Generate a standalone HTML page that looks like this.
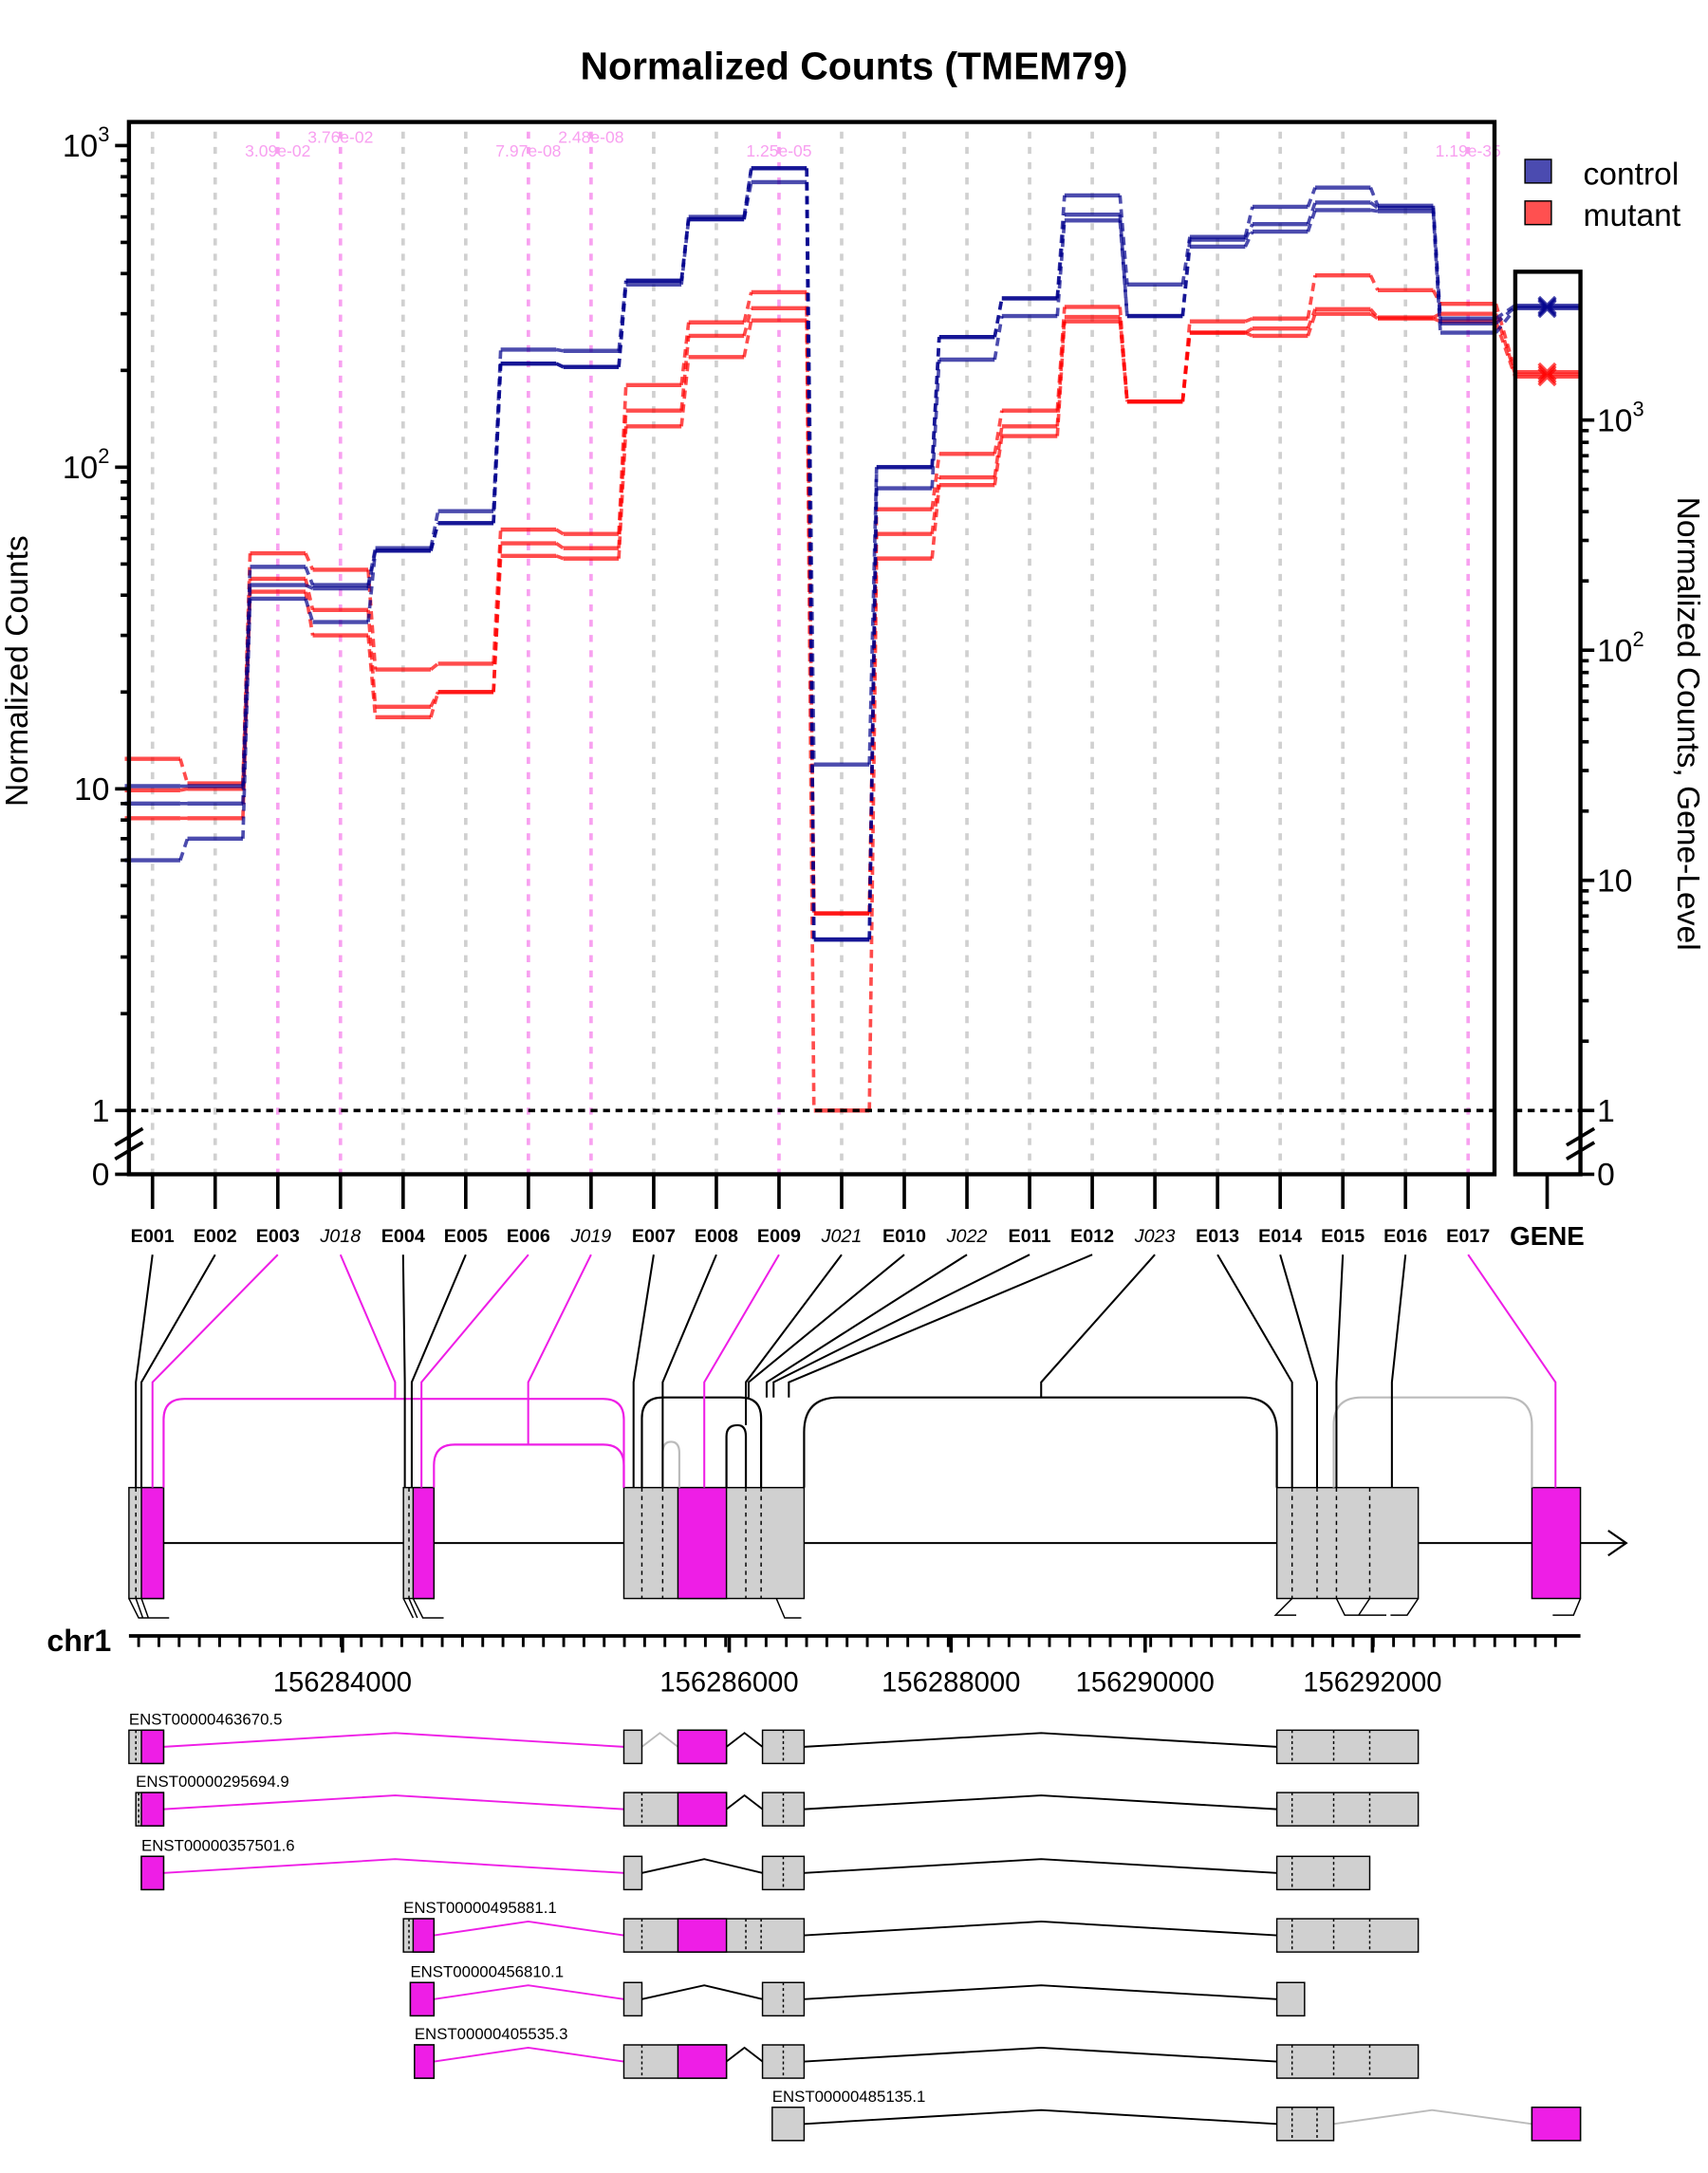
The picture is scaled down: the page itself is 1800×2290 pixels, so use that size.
<!DOCTYPE html>
<html><head><meta charset="utf-8"><style>
html,body{margin:0;padding:0;background:#fff;}
svg{display:block;font-family:"Liberation Sans",sans-serif;}
</style></head><body>
<svg id="chart" width="1800" height="2290" viewBox="0 0 1232 1567.4" xmlns="http://www.w3.org/2000/svg">
<text x="616" y="57" font-size="28" font-weight="bold" text-anchor="middle">Normalized Counts (TMEM79)</text>
<g id="grid"></g>
<g id="series"></g>
<rect x="93" y="88" width="985" height="759" fill="none" stroke="#000" stroke-width="3"/>
<rect x="1093" y="196" width="47" height="651" fill="none" stroke="#000" stroke-width="3"/>
<line x1="93" y1="801" x2="1078" y2="801" stroke="#000" stroke-width="2.5" stroke-dasharray="5,4"/>
<line x1="1093" y1="801" x2="1140" y2="801" stroke="#000" stroke-width="2.5" stroke-dasharray="5,4"/>
<g id="axes"></g>
<text transform="translate(20,484) rotate(-90)" font-size="23" text-anchor="middle">Normalized Counts</text>
<text transform="translate(1210,522) rotate(90)" font-size="23" text-anchor="middle">Normalized Counts, Gene-Level</text>
<g>
<rect x="1100" y="115" width="19" height="17" fill="#4b4bb0" stroke="#000"/>
<text x="1142" y="133" font-size="23">control</text>
<rect x="1100" y="145" width="19" height="17" fill="#ff5050" stroke="#000"/>
<text x="1142" y="163" font-size="23">mutant</text>
</g>
<g id="model">
<line x1="93" y1="1113" x2="1172" y2="1113" stroke="#000" stroke-width="1.3"/>
<path d="M1160 1104 L1173 1113 L1160 1122" fill="none" stroke="#000" stroke-width="1.5"/>
<rect x="93" y="1073" width="25" height="80" fill="#d0d0d0" stroke="#000"/>
<rect x="102" y="1073" width="16" height="80" fill="#ee1ee6" stroke="#000"/>
<rect x="291" y="1073" width="22" height="80" fill="#d0d0d0" stroke="#000"/>
<rect x="298" y="1073" width="15" height="80" fill="#ee1ee6" stroke="#000"/>
<rect x="450" y="1073" width="130" height="80" fill="#d0d0d0" stroke="#000"/>
<rect x="489" y="1073" width="35" height="80" fill="#ee1ee6" stroke="#000"/>
<rect x="921" y="1073" width="102" height="80" fill="#d0d0d0" stroke="#000"/>
<rect x="1105" y="1073" width="35" height="80" fill="#ee1ee6" stroke="#000"/>
<g stroke="#000" stroke-dasharray="3,3" stroke-width="1">
<line x1="98" y1="1073" x2="98" y2="1153"/><line x1="295" y1="1073" x2="295" y2="1153"/>
<line x1="463" y1="1073" x2="463" y2="1153"/><line x1="478" y1="1073" x2="478" y2="1153"/>
<line x1="538" y1="1073" x2="538" y2="1153"/><line x1="549" y1="1073" x2="549" y2="1153"/>
<line x1="932" y1="1073" x2="932" y2="1153"/><line x1="950" y1="1073" x2="950" y2="1153"/>
<line x1="964" y1="1073" x2="964" y2="1153"/><line x1="988" y1="1073" x2="988" y2="1153"/>
</g>
<g fill="none" stroke-width="1.5">
<path d="M118 1073 V1024 Q118 1009 133 1009 H435 Q450 1009 450 1024 V1073" stroke="#ee1ee6"/>
<path d="M313 1073 V1057 Q313 1042 328 1042 H435 Q450 1042 450 1057 V1073" stroke="#ee1ee6"/>
<path d="M463 1073 V1023 Q463 1008 478 1008 H534 Q549 1008 549 1023 V1073" stroke="#000"/>
<path d="M478 1073 V1048 Q478 1040 484 1040 Q490 1040 490 1048 V1073" stroke="#bbb"/>
<path d="M524 1073 V1036 Q524 1028 532 1028 Q538 1028 538 1036 V1073" stroke="#000"/>
<path d="M580 1073 V1033 Q580 1008 605 1008 H896 Q921 1008 921 1033 V1073" stroke="#000"/>
<path d="M962 1073 V1028 Q962 1008 982 1008 H1085 Q1105 1008 1105 1028 V1073" stroke="#bbb"/>
</g>
<g stroke="#000" stroke-width="1" fill="none">
<path d="M93 1153 L100 1167 H110 M98 1153 L103 1167 M102 1153 L107 1167 H122"/>
<path d="M291 1153 L298 1167 M295 1153 L301 1167 M298 1153 L305 1167 H320"/>
<path d="M560 1153 L566 1167 H578"/>
<path d="M932 1153 L920 1165 H935 M964 1153 L970 1165 H985 M988 1153 L980 1165 H1000 M1023 1153 L1015 1165 H1003"/>
<path d="M1140 1153 L1135 1165 H1120"/>
</g>
</g>
<text x="57" y="1191" font-size="22" font-weight="bold" text-anchor="middle">chr1</text>
<g id="gaxis">
<line x1="93" y1="1180" x2="1140" y2="1180" stroke="#000" stroke-width="2.5"/>
</g>
<g id="tx"></g>
</svg>
<script>
var bins=['E001','E002','E003','J018','E004','E005','E006','J019','E007','E008','E009','J021','E010','J022','E011','E012','J023','E013','E014','E015','E016','E017'];
var pvals={E003:'3.09e-02',J018:'3.76e-02',E006:'7.97e-08',J019:'2.48e-08',E009:'1.25e-05',E017:'1.19e-35'};
var control1=[10.2,10.2,49,43,56,73,232,230,380,600,850,11.9,100,254,335,700,370,520,645,740,650,290];
var control2=[9,9,43,42,55,67,210,205,380,590,850,3.4,100,254,335,610,295,510,570,665,640,280];
var control3=[6,7,39,33,55,67,210,205,370,590,770,3.4,86,216,295,585,295,485,540,630,625,262];
var mutant1=[12.4,10.4,54,48,23.5,24.5,64,62,180,282,350,4.1,74,110,150,315,160,284,290,395,355,322];
var mutant2=[9.9,10,45,36,18,20,58,56,150,256,312,4.1,62,93,134,293,160,262,270,310,292,300];
var mutant3=[8.1,8.1,41,30,16.7,20,53,52,134,220,286,1,52,88,125,284,160,262,256,300,290,284];
var geneControl=[3150,3100,3050];
var geneMutant=[1620,1580,1540];
var yTicks=[1,10,100,1000];
var geneTicks=[1,10,100,1000];
var genomicLabels=['156284000','156286000','156288000','156290000','156292000'];
var genomicLabelX=[247,526,686,826,990];

var NS='http://www.w3.org/2000/svg';
function mk(parent,tag,attrs,text){var e=document.createElementNS(NS,tag);for(var k in attrs)e.setAttribute(k,attrs[k]);if(text!==undefined)e.textContent=text;parent.appendChild(e);return e;}
function xB(i){return 110+i*45.19;}
function yM(v){return v<=0?847:801-232*Math.log10(v);}
function yG(v){return 801-166*Math.log10(v);}
var grid=document.getElementById('grid'),series=document.getElementById('series'),axes=document.getElementById('axes');

bins.forEach(function(b,i){
  var sig=pvals[b]!==undefined;
  var g=mk(grid,'line',{x1:xB(i),y1:95,x2:xB(i),y2:847,stroke:sig?'#f8a0f0':'#d0d0d0','stroke-width':2.5,'stroke-dasharray':'5,6'});
  
  
  if(sig){
    var up=(b==='J018'||b==='J019');
    var t=mk(grid,'text',{x:xB(i),y:up?103:113,'font-size':12,fill:'#f8a0f0','text-anchor':'middle'},pvals[b]);
    
    
  }
  var tk=mk(axes,'line',{x1:xB(i),y1:847,x2:xB(i),y2:872,stroke:'#000','stroke-width':2.5});
  
  
  var junc=b.charAt(0)==='J';
  var lb=mk(axes,'text',{x:xB(i),y:896,'font-size':13.5,'font-weight':junc?'normal':'bold','font-style':junc?'italic':'normal','text-anchor':'middle'},b);
  
  
});
var gt=mk(axes,'line',{x1:1116,y1:847,x2:1116,y2:872,stroke:'#000','stroke-width':2.5});


var gl=mk(axes,'text',{x:1116,y:898,'font-size':19,'font-weight':'bold','text-anchor':'middle'},'GENE');



function yAxis(x,scale,ticks,dir,pre){
  var ax=mk(axes,'line',{x1:x,y1:scale(1000),x2:x,y2:847,stroke:'#000','stroke-width':2.5});
  
  
  ticks.forEach(function(t,k){
    var y=scale(t);
    var l=mk(axes,'line',{x1:x,y1:y,x2:x+dir*10,y2:y,stroke:'#000','stroke-width':2.5});
    
    
    var lx=x+dir*(dir<0?14:12);
    var tx=mk(axes,'text',{x:lx,y:y+8,'font-size':23,'text-anchor':dir<0?'end':'start'});
    
    
    if(t===1)tx.textContent='1';else if(t===10)tx.textContent='10';
    else{tx.textContent='10';mk(tx,'tspan',{dy:-11,'font-size':15},String(Math.round(Math.log10(t))));}
    if(t<1000)for(var m=2;m<=9;m++){var ym=scale(t*m);var ml=mk(axes,'line',{x1:x,y1:ym,x2:x+dir*6,y2:ym,stroke:'#000','stroke-width':2.5});}
  });
  var z=mk(axes,'text',{x:x+dir*(dir<0?14:12),y:855,'font-size':23,'text-anchor':dir<0?'end':'start'},'0');
  
  
  var br=mk(axes,'path',{d:'M'+(x-10)+' 826 L'+(x+10)+' 814 M'+(x-10)+' 836 L'+(x+10)+' 824',stroke:'#000','stroke-width':2.5,fill:'none'});
  
  
  var zt=mk(axes,'line',{x1:x,y1:847,x2:x+dir*10,y2:847,stroke:'#000','stroke-width':2.5});
  
  
}
yAxis(93,yM,yTicks,-1,'y');
yAxis(1140,yG,geneTicks,1,'gene-y');

function drawSeries(vals,gv,color,name){
  var d='',c='';
  for(var i=0;i<vals.length;i++){
    var x=xB(i),y=yM(vals[i]);
    d+='M'+(x-20)+' '+y+' H'+(x+20)+' ';
    if(i<vals.length-1){c+='M'+(x+20)+' '+y+' L'+(xB(i+1)-20)+' '+yM(vals[i+1])+' ';}
  }
  c+='M'+(xB(vals.length-1)+20)+' '+yM(vals[vals.length-1])+' L1093 '+yG(gv)+' ';
  var h=mk(series,'path',{d:d,stroke:color,'stroke-width':3,fill:'none'});
  
  
  var cn=mk(series,'path',{d:c,stroke:color,'stroke-width':2.5,fill:'none','stroke-dasharray':'6,4'});
  
  
  var gy=yG(gv);
  var gs=mk(series,'path',{d:'M1093 '+gy+' H1140 M1110 '+(gy-6)+' L1122 '+(gy+6)+' M1122 '+(gy-6)+' L1110 '+(gy+6),stroke:color,'stroke-width':2.5,fill:'none'});
  
  
}
var cc='rgba(0,0,139,0.7)',mc='rgba(255,0,0,0.7)';
drawSeries(mutant1,geneMutant[0],mc,'mutant-rep1');
drawSeries(mutant2,geneMutant[1],mc,'mutant-rep2');
drawSeries(mutant3,geneMutant[2],mc,'mutant-rep3');
drawSeries(control1,geneControl[0],cc,'control-rep1');
drawSeries(control2,geneControl[1],cc,'control-rep2');
drawSeries(control3,geneControl[2],cc,'control-rep3');

var model=document.getElementById('model');
var modelX=[98,102,110,285,292,297,304,381,457,478,508,538,540,553,558,569,751,932,950,964,1004,1122];
var endY=[1073,1073,1073,1009,1073,1073,1073,1042,1073,1073,1073,1028,1008,1008,1008,1008,1008,1073,1073,1073,1073,1073];
bins.forEach(function(b,i){
  var sig=pvals[b]!==undefined;
  var p=mk(model,'path',{d:'M'+xB(i)+' 905 L'+modelX[i]+' 997 V'+endY[i],stroke:sig?'#ee1ee6':'#000','stroke-width':1.4,fill:'none'});
  
  
});

var gax=document.getElementById('gaxis');
for(var gx=100;gx<=1135;gx+=14.6){var mt=mk(gax,'line',{x1:gx,y1:1180,x2:gx,y2:1188,stroke:'#000','stroke-width':2});}
genomicLabels.forEach(function(l,k){
  var t=mk(gax,'line',{x1:genomicLabelX[k],y1:1180,x2:genomicLabelX[k],y2:1192,stroke:'#000','stroke-width':2.5});
  
  
  var tl=mk(gax,'text',{x:genomicLabelX[k],y:1220,'font-size':20,'text-anchor':'middle'},l);
  
  
});

var txg=document.getElementById('tx');
var transcripts=[
 {n:'ENST00000463670.5',lx:93,y:1248,boxes:[[93,118,102,118],[450,463],[489,524,489,524],[550,580],[921,1023]],lines:[[118,285,450,'#ee1ee6'],[463,476,489,'#bbb'],[524,537,550,'#000'],[580,751,921,'#000']],dash:[98,565,932,962,988]},
 {n:'ENST00000295694.9',lx:98,y:1293,boxes:[[98,118,102,118],[450,524,489,524],[550,580],[921,1023]],lines:[[118,285,450,'#ee1ee6'],[524,537,550,'#000'],[580,751,921,'#000']],dash:[100,463,565,932,962,988]},
 {n:'ENST00000357501.6',lx:102,y:1339,boxes:[[102,118,102,118],[450,463],[550,580],[921,988]],lines:[[118,285,450,'#ee1ee6'],[463,508,550,'#000'],[580,751,921,'#000']],dash:[565,932,962]},
 {n:'ENST00000495881.1',lx:291,y:1384,boxes:[[291,313,298,313],[450,580,489,524],[921,1023]],lines:[[313,381,450,'#ee1ee6'],[580,751,921,'#000']],dash:[295,463,538,549,932,962,988]},
 {n:'ENST00000456810.1',lx:296,y:1430,boxes:[[296,313,296,313],[450,463],[550,580],[921,941]],lines:[[313,381,450,'#ee1ee6'],[463,508,550,'#000'],[580,751,921,'#000']],dash:[565]},
 {n:'ENST00000405535.3',lx:299,y:1475,boxes:[[299,313,299,313],[450,524,489,524],[550,580],[921,1023]],lines:[[313,381,450,'#ee1ee6'],[524,537,550,'#000'],[580,751,921,'#000']],dash:[463,565,932,962,988]},
 {n:'ENST00000485135.1',lx:557,y:1520,boxes:[[557,580],[921,962],[1105,1140,1105,1140]],lines:[[580,751,921,'#000'],[962,1033,1105,'#bbb']],dash:[932,950]}
];
transcripts.forEach(function(t,k){
  var g=mk(txg,'g',{});
  
  
  var lab=mk(g,'text',{x:t.lx,y:t.y-4,'font-size':11.5},t.n);
  
  
  t.lines.forEach(function(l){
    var p=mk(g,'path',{d:'M'+l[0]+' '+(t.y+12)+' L'+l[1]+' '+(t.y+2)+' L'+l[2]+' '+(t.y+12),stroke:l[3],'stroke-width':1.3,fill:'none'});
    
    
  });
  t.boxes.forEach(function(b){
    var r=mk(g,'rect',{x:b[0],y:t.y,width:b[1]-b[0],height:24,fill:'#d0d0d0',stroke:'#000','stroke-width':1});
    
    
    if(b.length>2){var s=mk(g,'rect',{x:b[2],y:t.y,width:b[3]-b[2],height:24,fill:'#ee1ee6',stroke:'#000','stroke-width':1});}
  });
  t.dash.forEach(function(x){var d=mk(g,'line',{x1:x,y1:t.y,x2:x,y2:t.y+24,stroke:'#000','stroke-width':1,'stroke-dasharray':'2,2'});});
});
</script>
</body></html>
